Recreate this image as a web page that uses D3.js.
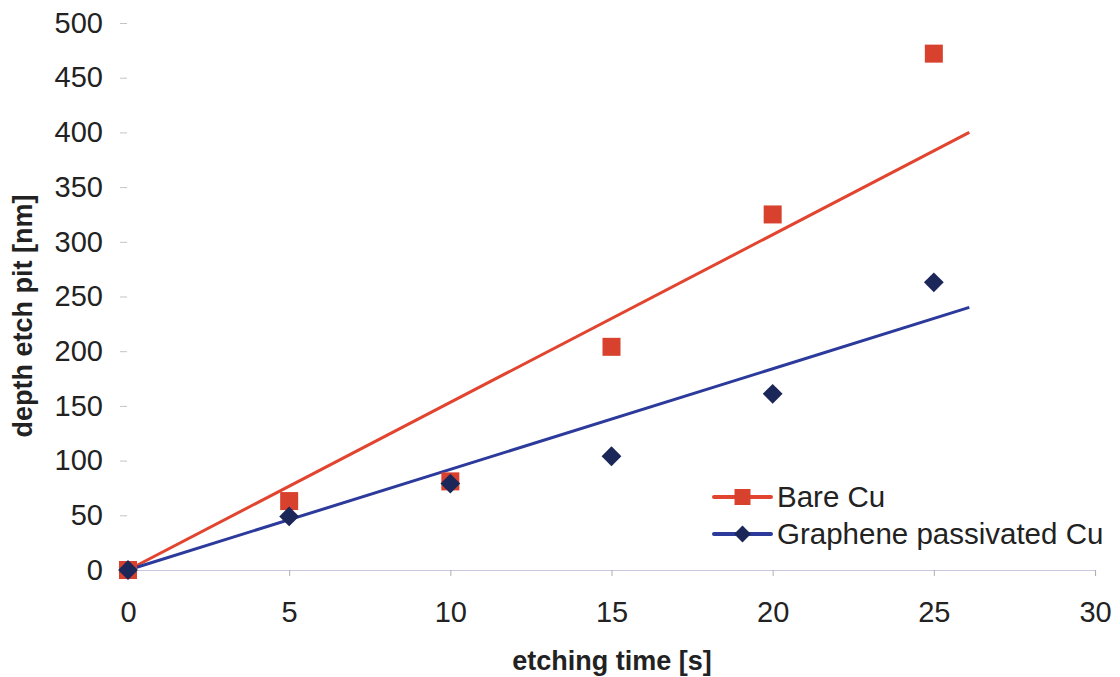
<!DOCTYPE html>
<html><head><meta charset="utf-8">
<script src="https://cdn.jsdelivr.net/npm/d3@7"></script>
<style>body{margin:0;background:#fff;}svg{display:block;font-family:"Liberation Sans",Arial,sans-serif;}</style>
</head><body><svg id="c" width="1120" height="677"></svg>
<script>
const times = [0, 5, 10, 15, 20, 25];
const bareCu = [0, 63, 81, 204, 325, 472];
const graphene = [0, 49, 79, 104, 161, 263];
const trendEnd = 26.1;
const bareTrend = [0, 400];
const grapheneTrend = [0, 240];
const xTicks = [0, 5, 10, 15, 20, 25, 30];
const yTicks = [0, 50, 100, 150, 200, 250, 300, 350, 400, 450, 500];
const seriesNames = ["Bare Cu", "Graphene passivated Cu"];

const svg = d3.select("#c");
const x = d3.scaleLinear().domain([0, 30]).range([128, 1095]);
const y = d3.scaleLinear().domain([0, 500]).range([570, 23]);
const FF = "Liberation Sans, Arial, sans-serif";

// x axis
const xa = svg.append("g").attr("transform", `translate(0,${y(0)})`)
  .call(d3.axisBottom(x).tickValues(xTicks).tickSize(6).tickPadding(25));
xa.select(".domain").attr("stroke", "#c8c8e0").attr("stroke-width", 1.2);
xa.selectAll(".tick line").attr("stroke", "#b0b0b0");
xa.selectAll("text").attr("font-size", 29).attr("fill", "#222").attr("font-family", FF);

// y axis
const ya = svg.append("g").attr("transform", `translate(127,0)`)
  .call(d3.axisLeft(y).tickValues(yTicks).tickSize(7).tickPadding(17));
ya.select(".domain").remove();
ya.selectAll(".tick line").attr("stroke", "#c4c4c4");
ya.selectAll("text").attr("font-size", 29).attr("fill", "#222").attr("font-family", FF);

// titles
svg.append("text").attr("x", 612).attr("y", 670).attr("text-anchor", "middle")
  .attr("font-size", 27).attr("font-weight", "bold").attr("fill", "#222").text("etching time [s]");
svg.append("text").attr("transform", "translate(32,316) rotate(-90)").attr("text-anchor", "middle")
  .attr("font-size", 27).attr("font-weight", "bold").attr("fill", "#222").text("depth etch pit [nm]");

const red = "#e2452f", redM = "#d8412d", blue = "#2c3a9c", navy = "#1b2758";

// trend lines
svg.append("line").attr("x1", x(0)).attr("y1", y(bareTrend[0])).attr("x2", x(trendEnd)).attr("y2", y(bareTrend[1]))
  .attr("stroke", red).attr("stroke-width", 3);
svg.append("line").attr("x1", x(0)).attr("y1", y(grapheneTrend[0])).attr("x2", x(trendEnd)).attr("y2", y(grapheneTrend[1]))
  .attr("stroke", blue).attr("stroke-width", 3);

// markers
const sq = 18;
svg.append("g").selectAll("rect").data(times).join("rect")
  .attr("x", (d) => x(d) - sq/2).attr("y", (d, i) => y(bareCu[i]) - sq/2)
  .attr("width", sq).attr("height", sq).attr("fill", redM);
const dsym = d3.symbol().type(d3.symbolDiamond2).size(250);
svg.append("g").selectAll("path").data(times).join("path")
  .attr("d", dsym).attr("transform", (d, i) => `translate(${x(d)},${y(graphene[i])})`)
  .attr("fill", navy);

// legend
const lg = svg.append("g");
const ly = [497, 534];
lg.append("line").attr("x1", 714).attr("x2", 771).attr("y1", ly[0]).attr("y2", ly[0]).attr("stroke", red).attr("stroke-width", 4).attr("stroke-linecap","round");
lg.append("rect").attr("x", 742.5 - 8).attr("y", ly[0] - 8).attr("width", 16).attr("height", 16).attr("fill", redM);
lg.append("line").attr("x1", 714).attr("x2", 771).attr("y1", ly[1]).attr("y2", ly[1]).attr("stroke", blue).attr("stroke-width", 4).attr("stroke-linecap","round");
lg.append("path").attr("d", d3.symbol().type(d3.symbolDiamond2).size(180)).attr("transform", `translate(742.5,${ly[1]})`).attr("fill", navy);
lg.selectAll("text").data(seriesNames).join("text")
  .attr("x", 777).attr("y", (d, i) => ly[i] + 10).attr("font-size", 29.5).attr("fill", "#222").text((d) => d);
</script></body></html>
